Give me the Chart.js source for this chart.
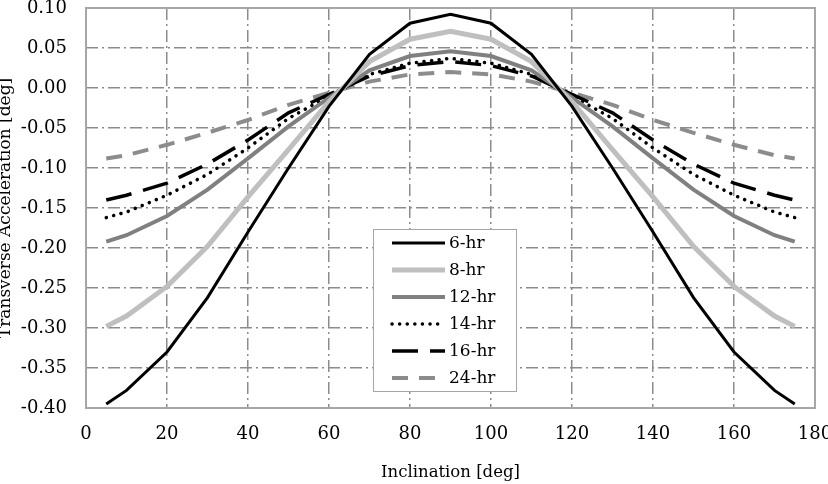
<!DOCTYPE html>
<html>
<head>
<meta charset="utf-8">
<script src="https://cdn.jsdelivr.net/npm/chart.js@4.4.0/dist/chart.umd.min.js"></script>
<style>
  html, body { margin: 0; padding: 0; background: #fff; overflow: hidden; }
  #wrap { position: relative; width: 828px; height: 484px; }
</style>
</head>
<body>
<div id="wrap"><canvas id="chart"></canvas></div>
<script>
// Inclination [deg]
const inclination = [5, 10, 20, 30, 40, 50, 60, 70, 80, 90, 100, 110, 120, 130, 140, 150, 160, 170, 175];

// Transverse acceleration [deg] per orbit period
const hr6  = [-0.395, -0.378, -0.330, -0.262, -0.180, -0.100, -0.023, 0.042, 0.081, 0.092, 0.081, 0.042, -0.023, -0.100, -0.180, -0.262, -0.330, -0.378, -0.395];
const hr8  = [-0.298, -0.285, -0.248, -0.198, -0.136, -0.077, -0.017, 0.033, 0.061, 0.071, 0.061, 0.033, -0.017, -0.077, -0.136, -0.198, -0.248, -0.285, -0.298];
const hr12 = [-0.192, -0.184, -0.160, -0.127, -0.088, -0.048, -0.012, 0.022, 0.040, 0.046, 0.040, 0.022, -0.012, -0.048, -0.088, -0.127, -0.160, -0.184, -0.192];
const hr14 = [-0.162, -0.155, -0.134, -0.108, -0.075, -0.038, -0.010, 0.017, 0.031, 0.037, 0.031, 0.017, -0.010, -0.038, -0.075, -0.108, -0.134, -0.155, -0.162];
const hr16 = [-0.140, -0.134, -0.119, -0.095, -0.065, -0.031, -0.008, 0.015, 0.028, 0.033, 0.028, 0.015, -0.008, -0.031, -0.065, -0.095, -0.119, -0.134, -0.140];
const hr24 = [-0.088, -0.084, -0.071, -0.056, -0.040, -0.021, -0.006, 0.008, 0.017, 0.020, 0.017, 0.008, -0.006, -0.021, -0.040, -0.056, -0.071, -0.084, -0.088];

const seriesLabels = ['6-hr', '8-hr', '12-hr', '14-hr', '16-hr', '24-hr'];

const FONT = "'DejaVu Serif', serif";
const GRID = '#8c8c8c';

const toPoints = ys => inclination.map((x, i) => ({ x, y: ys[i] }));

// Plot frame (solid grey box around the plot area)
const framePlugin = {
  id: 'frame',
  beforeDatasetsDraw(chart) {
    const { ctx, chartArea: a } = chart;
    ctx.save();
    ctx.strokeStyle = '#a6a6a6';
    ctx.lineWidth = 2;
    ctx.strokeRect(a.left, a.top, a.right - a.left, a.bottom - a.top);
    ctx.restore();
  }
};

// Boxed legend sitting inside the plot
const boxLegend = {
  id: 'boxLegend',
  afterDatasetsDraw(chart) {
    const { ctx, chartArea: a } = chart;
    const x0 = a.left + 287, y0 = a.top + 221;
    const w = 143, h = 162, row = 27;
    ctx.save();
    ctx.fillStyle = '#fff';
    ctx.fillRect(x0, y0, w, h);
    ctx.strokeStyle = '#a6a6a6';
    ctx.lineWidth = 1;
    ctx.strokeRect(x0 + 0.5, y0 + 0.5, w, h);
    chart.data.datasets.forEach((ds, i) => {
      const y = y0 + 14 + i * row;
      ctx.beginPath();
      ctx.strokeStyle = ds.borderColor;
      ctx.lineWidth = ds.borderWidth;
      ctx.lineCap = ds.borderCapStyle || 'butt';
      ctx.setLineDash(ds.borderDash || []);
      ctx.moveTo(x0 + 19, y);
      ctx.lineTo(x0 + 72, y);
      ctx.stroke();
      ctx.setLineDash([]);
      ctx.fillStyle = '#000';
      ctx.font = '17px ' + FONT;
      ctx.textBaseline = 'middle';
      ctx.fillText(ds.label, x0 + 76, y + 1);
    });
    ctx.restore();
  }
};

const isEdge = (v, lo, hi) => Math.abs(v - lo) < 1e-9 || Math.abs(v - hi) < 1e-9;

new Chart(document.getElementById('chart').getContext('2d'), {
  type: 'line',
  data: {
    datasets: [
      { label: seriesLabels[0], data: toPoints(hr6),  borderColor: '#000000', borderWidth: 3 },
      { label: seriesLabels[1], data: toPoints(hr8),  borderColor: '#bfbfbf', borderWidth: 5 },
      { label: seriesLabels[2], data: toPoints(hr12), borderColor: '#808080', borderWidth: 4 },
      { label: seriesLabels[3], data: toPoints(hr14), borderColor: '#000000', borderWidth: 3.5, borderDash: [0.1, 7.5], borderCapStyle: 'round' },
      { label: seriesLabels[4], data: toPoints(hr16), borderColor: '#000000', borderWidth: 3.5, borderDash: [26, 12] },
      { label: seriesLabels[5], data: toPoints(hr24), borderColor: '#8c8c8c', borderWidth: 4, borderDash: [16, 11] }
    ]
  },
  options: {
    responsive: true,
    maintainAspectRatio: false,
    animation: false,
    layout: { padding: { left: 0, top: 8, right: 13, bottom: 0 } },
    elements: { point: { radius: 0 }, line: { tension: 0, fill: false } },
    scales: {
      x: {
        type: 'linear',
        min: 0,
        max: 180,
        afterFit: s => { s.height = 76; s.paddingLeft = 0; s.paddingRight = 0; },
        ticks: { stepSize: 20, color: '#000', font: { family: FONT, size: 18 }, padding: 16, maxRotation: 0 },
        grid: { color: c => isEdge(c.tick.value, 0, 180) ? 'rgba(0,0,0,0)' : GRID, lineWidth: 1.5, drawTicks: false },
        border: { display: false, dash: [12, 4, 2, 4] },
        title: { display: true, text: 'Inclination [deg]', color: '#000', font: { family: FONT, size: 16.5 }, padding: { top: 17, bottom: 1 } }
      },
      y: {
        min: -0.4,
        max: 0.1,
        afterFit: s => { s.width = 86; s.paddingTop = 0; s.paddingBottom = 0; },
        ticks: { stepSize: 0.05, color: '#000', font: { family: FONT, size: 18 }, padding: 19, callback: v => v.toFixed(2) },
        grid: { color: c => isEdge(c.tick.value, -0.4, 0.1) ? 'rgba(0,0,0,0)' : GRID, lineWidth: 1.5, drawTicks: false },
        border: { display: false, dash: [12, 4, 2, 4] },
        title: { display: true, text: 'Transverse Acceleration [deg]', color: '#000', font: { family: FONT, size: 17 }, padding: { top: -5, bottom: 5 } }
      }
    },
    plugins: {
      legend: { display: false },
      tooltip: { enabled: false }
    }
  },
  plugins: [framePlugin, boxLegend]
});
</script>
</body>
</html>
